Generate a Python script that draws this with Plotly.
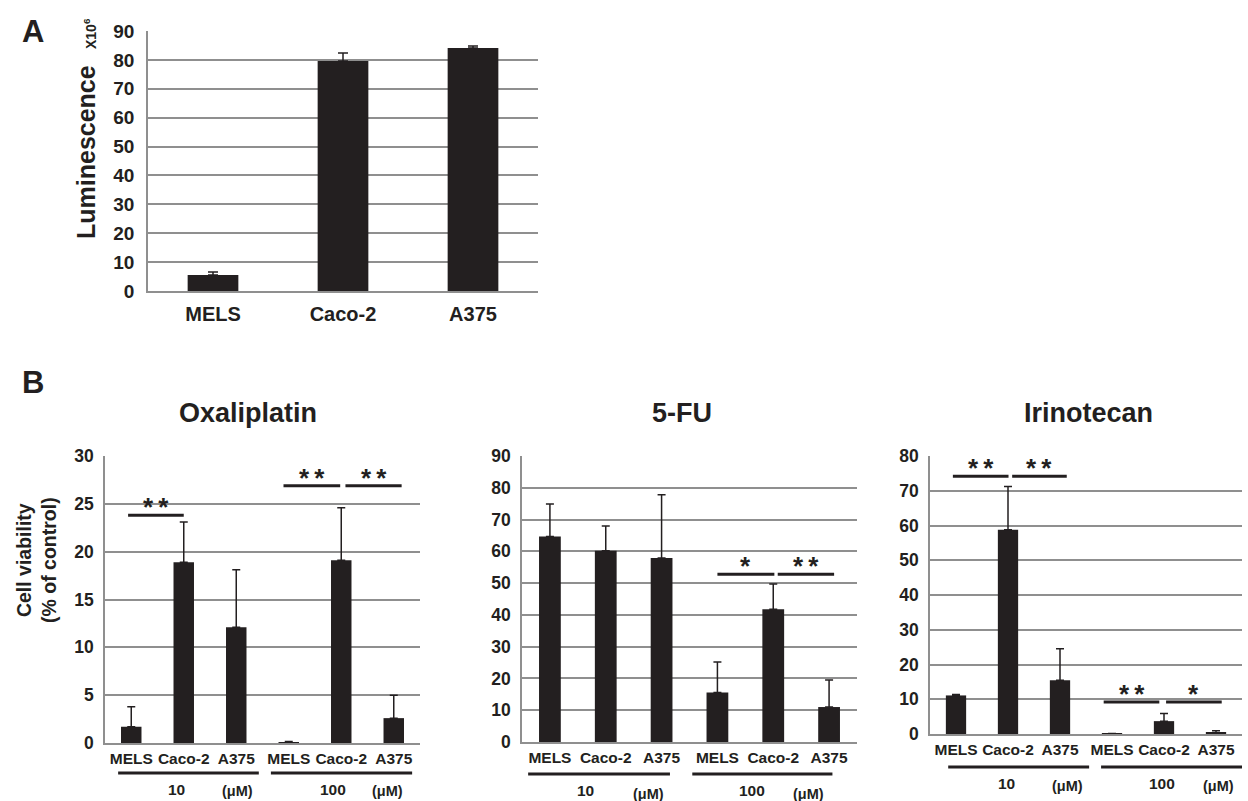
import plotly.graph_objects as go

W, H = 1248, 801

# ---------------- data ----------------
cells_A = ["MELS", "Caco-2", "A375"]
lum_mean = [5.5, 79.6, 84.1]
lum_err = [1.1, 2.8, 0.7]

cells_B = ["MELS", "Caco-2", "A375", "MELS", "Caco-2", "A375"]
oxa_mean = [1.7, 18.9, 12.1, 0.1, 19.1, 2.6]
oxa_err = [2.1, 4.2, 6.0, 0.05, 5.5, 2.4]
fu_mean = [64.7, 60.2, 57.9, 15.6, 41.8, 11.0]
fu_err = [10.2, 7.8, 19.9, 9.6, 7.9, 8.5]
iri_mean = [11.1, 58.8, 15.5, 0.1, 3.7, 0.3]
iri_err = [0.3, 12.4, 9.0, 0.05, 2.2, 0.6]

drugs = ["Oxaliplatin", "5-FU", "Irinotecan"]
doses = ["10", "100"]
dose_unit = "(μM)"

# significance brackets: (x_start, x_end, y_level, label)
oxa_sig = [(-0.06, 1.0, 23.8, "**"), (2.9, 3.98, 26.9, "**"), (4.08, 5.15, 26.9, "**")]
fu_sig = [(3.0, 4.02, 52.8, "*"), (4.08, 5.09, 52.8, "**")]
iri_sig = [(-0.06, 1.01, 74.2, "**"), (1.08, 2.13, 74.2, "**"),
           (2.84, 3.91, 9.2, "**"), (4.04, 5.11, 9.2, "*")]

# ---------------- styling ----------------
BAR = "#231f20"
GRID = "#8f8f8f"
FONT = "Liberation Sans, Arial, sans-serif"


def px(x):
    return x / W


def py(y):
    return 1 - y / H


fig = go.Figure()

# panel layouts: (xaxis, yaxis, x px range, y px range(top,bottom), yrange, dtick)
panels = [
    ("x", "y", (148, 538), (31, 291), [0, 90], 10),
    ("x2", "y2", (105, 420), (456, 743), [0, 30], 5),
    ("x3", "y3", (522, 857), (456, 742), [0, 90], 10),
    ("x4", "y4", (930, 1242), (456, 734), [0, 80], 10),
]

fig.add_trace(go.Bar(
    x=list(range(len(cells_A))), y=lum_mean,
    marker=dict(color=BAR, line=dict(width=0)),
    error_y=dict(type="data", symmetric=False, array=lum_err,
                 arrayminus=[0] * len(lum_err), color=BAR, thickness=1.5, width=5),
    xaxis="x", yaxis="y", showlegend=False,
))

series_B = [(oxa_mean, oxa_err), (fu_mean, fu_err), (iri_mean, iri_err)]
for i, (m, e) in enumerate(series_B):
    fig.add_trace(go.Bar(
        x=list(range(len(cells_B))), y=m,
        marker=dict(color=BAR, line=dict(width=0)),
        error_y=dict(type="data", symmetric=False, array=e,
                     arrayminus=[0] * len(e), color=BAR, thickness=1.5, width=4),
        xaxis="x%d" % (i + 2), yaxis="y%d" % (i + 2), showlegend=False,
    ))

layout = dict(
    width=W, height=H,
    margin=dict(l=0, r=0, t=0, b=0, pad=0),
    paper_bgcolor="white", plot_bgcolor="white",
    bargap=0.61, showlegend=False,
    font=dict(family=FONT, color="#231f20", weight="bold"),
    annotations=[], shapes=[],
)

for idx, (xa, ya, (x0, x1), (yt, yb), yr, dt) in enumerate(panels):
    xkey = "xaxis" if xa == "x" else "xaxis" + xa[1:]
    ykey = "yaxis" if ya == "y" else "yaxis" + ya[1:]
    n = len(cells_A) if idx == 0 else len(cells_B)
    labels = cells_A if idx == 0 else cells_B
    layout[xkey] = dict(
        domain=[px(x0), px(x1)], anchor=ya, range=[-0.5, n - 0.5],
        tickmode="array", tickvals=list(range(n)), ticktext=labels,
        showgrid=False, zeroline=False, showline=True, linecolor=GRID, linewidth=1.5,
        ticks="outside", ticklen=4 if idx == 0 else 1, tickcolor="rgba(0,0,0,0)",
        tickfont=dict(size=20 if idx == 0 else 15.5, family=FONT, color="#231f20", weight="bold"),
        fixedrange=True, automargin=False,
    )
    layout[ykey] = dict(
        domain=[py(yb), py(yt)], anchor=xa, range=yr,
        tickmode="linear", tick0=0, dtick=dt,
        showgrid=True, gridcolor=GRID, gridwidth=1.5,
        zeroline=False, showline=True, linecolor=GRID, linewidth=1.5,
        ticks="outside", ticklen=8 if idx == 0 else 6, tickcolor="rgba(0,0,0,0)",
        tickfont=dict(size=19 if idx == 0 else 17.5, family=FONT, color="#231f20", weight="bold"),
        fixedrange=True, automargin=False,
    )

ann = layout["annotations"]
shp = layout["shapes"]


def text(x, y, s, size, angle=0, xanchor="center", yanchor="middle"):
    ann.append(dict(x=px(x), y=py(y), xref="paper", yref="paper", text=s,
                    showarrow=False, textangle=angle, xanchor=xanchor, yanchor=yanchor,
                    font=dict(size=size, family=FONT, color="#231f20", weight="bold")))


# panel letters
text(33, 32, "A", 31)
text(33, 382, "B", 31)

# Panel A y-axis title
text(86, 152, "Luminescence", 25, angle=-90)
text(90, 33, "X10<sup>6</sup>", 14, angle=-90)

# Panel B y-axis title
text(36, 560, "Cell viability<br>(% of control)", 19.5, angle=-90)

# drug titles
title_x = [248, 682, 1088]
for d, tx in zip(drugs, title_x):
    text(tx, 413, d, 27)

# significance brackets
sigs = [oxa_sig, fu_sig, iri_sig]
for i, sg in enumerate(sigs):
    xa = "x%d" % (i + 2)
    ya = "y%d" % (i + 2)
    for (a, b, lv, lab) in sg:
        shp.append(dict(type="line", xref=xa, yref=ya, x0=a, x1=b, y0=lv, y1=lv,
                        line=dict(color="#231f20", width=3)))
        ann.append(dict(x=(a + b) / 2, y=lv, xref=xa, yref=ya, text="\u2009".join(lab),
                        showarrow=False, xanchor="center", yanchor="bottom", yshift=-9,
                        font=dict(size=26, family=FONT, color="#231f20", weight="bold")))

# dose group underlines and labels
group_lines = [
    [(-0.25, 2.43), (2.66, 5.35)],
    [(-0.39, 2.15), (2.55, 5.06)],
    [(-0.15, 2.56), (2.79, 5.5)],
]
group_line_y = [773, 774, 767]
dose_pos = [(0.87, 3.84), (0.63, 3.62), (0.98, 3.96)]
unit_pos = [(2.03, 4.89), (1.76, 4.64), (2.15, 5.04)]
dose_y = [789, 790, 783]
unit_y = [791, 794, 786]
for i in range(3):
    xa = "x%d" % (i + 2)
    for (a, b) in group_lines[i]:
        shp.append(dict(type="line", xref=xa, yref="paper", x0=a, x1=b,
                        y0=py(group_line_y[i]), y1=py(group_line_y[i]),
                        line=dict(color="#231f20", width=3)))
    for j, d in enumerate(doses):
        ann.append(dict(x=dose_pos[i][j], y=py(dose_y[i]), xref=xa, yref="paper", text=d,
                        showarrow=False, xanchor="center", yanchor="middle",
                        font=dict(size=15.5, family=FONT, color="#231f20", weight="bold")))
        ann.append(dict(x=unit_pos[i][j], y=py(unit_y[i]), xref=xa, yref="paper", text=dose_unit,
                        showarrow=False, xanchor="center", yanchor="middle",
                        font=dict(size=14.5, family=FONT, color="#231f20", weight="bold")))

fig.update_layout(**layout)
fig.write_html(
    "out.html",
    config={"displayModeBar": False},
    post_script="document.body.style.margin='0px';document.body.style.overflow='hidden';",
)
